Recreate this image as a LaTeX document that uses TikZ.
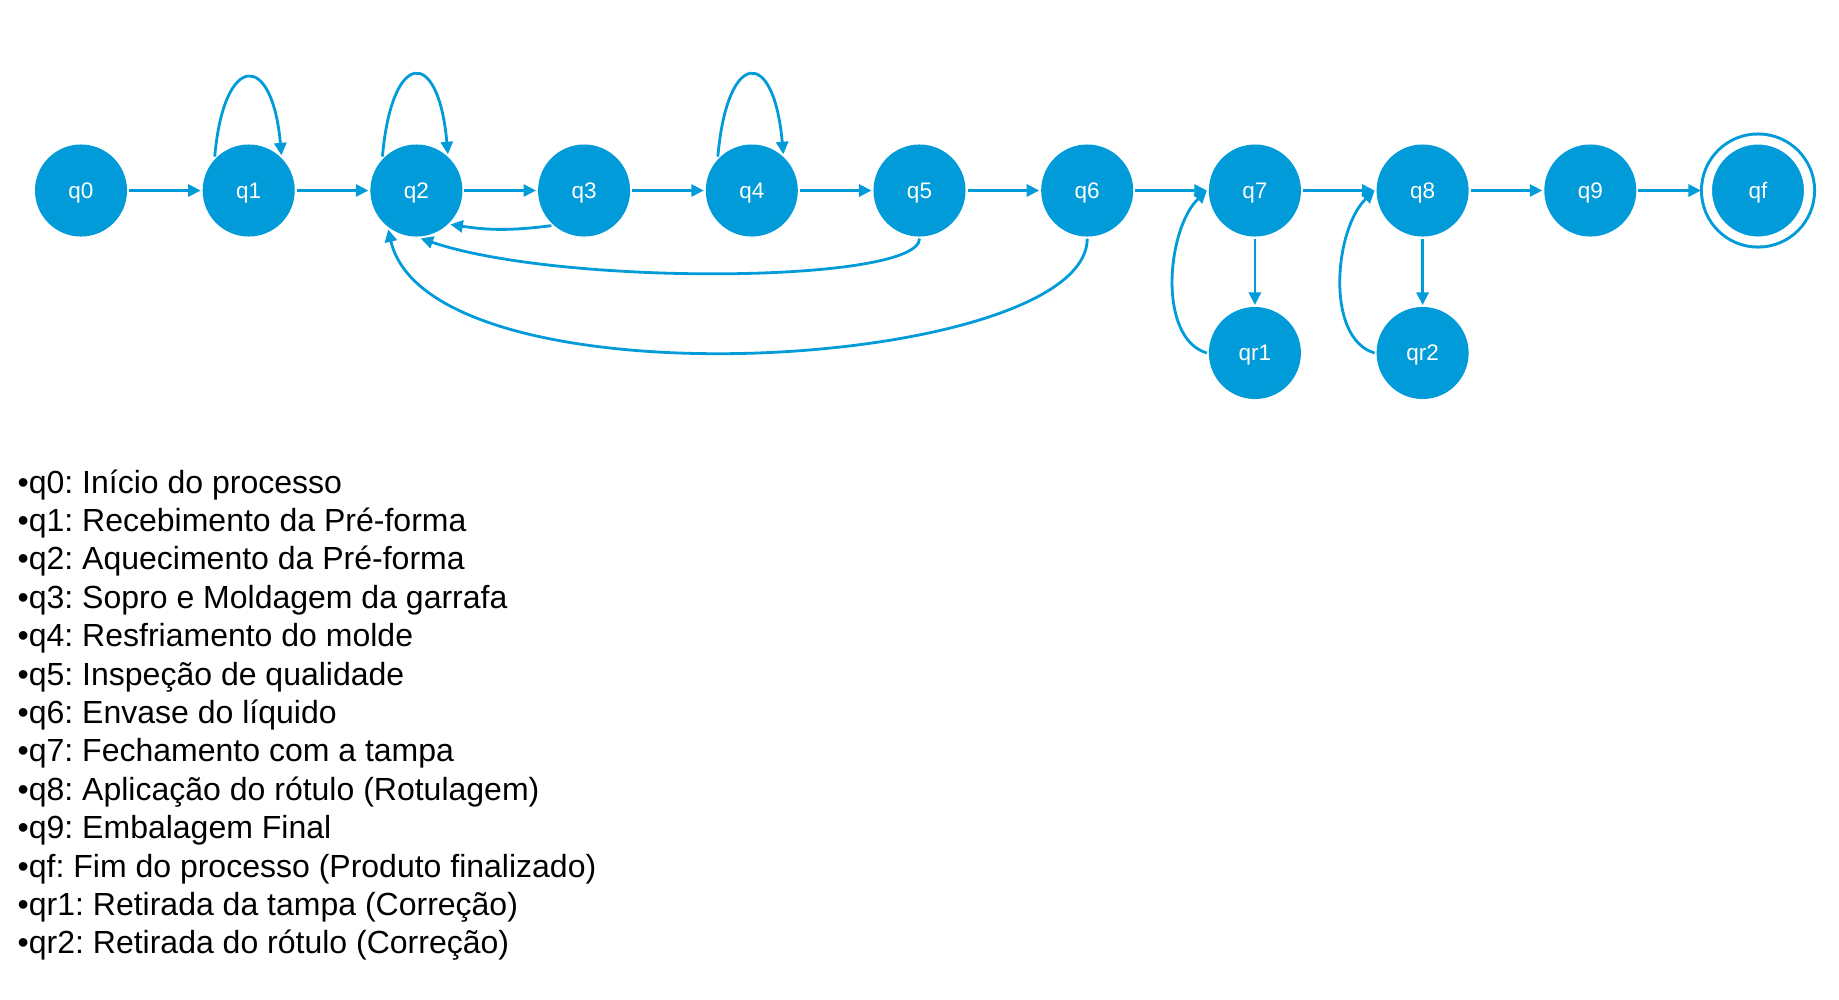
\documentclass[tikz,border=0pt]{standalone}
\usepackage{fontspec}
\setmainfont{Liberation Sans}
\usetikzlibrary{arrows.meta}
\definecolor{stateblue}{RGB}{0,155,216}
\frenchspacing

\begin{document}
\begin{tikzpicture}[x=0.01cm, y=0.01cm,
  state/.style={circle, fill=stateblue, text=white, minimum size=0.92cm, inner sep=0pt, outer sep=0.02cm, text depth=0pt, font=\fontsize{6.4}{7}\selectfont},
  final/.style={state, draw=stateblue, line width=0.03cm, double=white, double distance=0.09cm, minimum size=1.01cm, outer sep=0.065cm},
  trans/.style={draw=stateblue, line width=0.028cm, -{Triangle[length=0.125cm,width=0.12cm]}},
  item/.style={anchor=base west, inner sep=0pt, font=\fontsize{9.1}{10.9}\selectfont}]
  \useasboundingbox (0,0) rectangle (1839,-999);

  % states
  \node[state] (q0) at (81,-190.5) {q0};
  \node[state] (q1) at (248.7,-190.5) {q1};
  \node[state] (q2) at (416.4,-190.5) {q2};
  \node[state] (q3) at (584.1,-190.5) {q3};
  \node[state] (q4) at (751.8,-190.5) {q4};
  \node[state] (q5) at (919.5,-190.5) {q5};
  \node[state] (q6) at (1087.2,-190.5) {q6};
  \node[state] (q7) at (1254.9,-190.5) {q7};
  \node[state] (q8) at (1422.6,-190.5) {q8};
  \node[state] (q9) at (1590.3,-190.5) {q9};
  \node[final] (qf) at (1758,-190.5) {qf};
  \node[state] (qr1) at (1254.9,-353) {qr1};
  \node[state] (qr2) at (1422.6,-353) {qr2};

  % main line
  \draw[trans] (q0) -- (q1);
  \draw[trans] (q1) -- (q2);
  \draw[trans] (q2) -- (q3);
  \draw[trans] (q3) -- (q4);
  \draw[trans] (q4) -- (q5);
  \draw[trans] (q5) -- (q6);
  \draw[trans] (q6) -- (q7);
  \draw[trans] (q7) -- (q8);
  \draw[trans] (q8) -- (q9);
  \draw[trans] (q9) -- (qf);
  \draw[trans] (q7) -- (qr1);
  \draw[trans] (q8) -- (qr2);

  % loops
  \draw[trans] (q1.135) .. controls +(85:105) and +(95:105) .. (q1.47);
  \draw[trans] (q2.135) .. controls +(85:108) and +(95:108) .. (q2.49);
  \draw[trans] (q4.135) .. controls +(85:108) and +(95:108) .. (q4.49);

  % back edges
  \draw[trans] (q3.227) to[bend left=8] (q2.315);
  \draw[trans] (q5.south) .. controls +(0,-45) and +(141,-48) .. (q2.275);
  \draw[trans] (q6.south) .. controls +(0,-132) and +(42,-182) .. (q2.234);
  \draw[trans] (qr1.west) .. controls +(-50,15) and +(-40,-38) .. (q7.west);
  \draw[trans] (qr2.west) .. controls +(-50,15) and +(-40,-38) .. (q8.west);

  % legend
  \node[item] (l0) at (17,-493) {•q0: Início do processo};
  \node[item] (l1) at (17,-531.4) {•q1: Recebimento da Pré-forma};
  \node[item] (l2) at (17,-569.8) {•q2: Aquecimento da Pré-forma};
  \node[item] (l3) at (17,-608.2) {•q3: Sopro e Moldagem da garrafa};
  \node[item] (l4) at (17,-646.6) {•q4: Resfriamento do molde};
  \node[item] (l5) at (17,-685) {•q5: Inspeção de qualidade};
  \node[item] (l6) at (17,-723.4) {•q6: Envase do líquido};
  \node[item] (l7) at (17,-761.8) {•q7: Fechamento com a tampa};
  \node[item] (l8) at (17,-800.2) {•q8: Aplicação do rótulo (Rotulagem)};
  \node[item] (l9) at (17,-838.6) {•q9: Embalagem Final};
  \node[item] (lf) at (17,-877) {•qf: Fim do processo (Produto finalizado)};
  \node[item] (lr1) at (17,-915.4) {•qr1: Retirada da tampa (Correção)};
  \node[item] (lr2) at (17,-953.8) {•qr2: Retirada do rótulo (Correção)};
\end{tikzpicture}
\end{document}
